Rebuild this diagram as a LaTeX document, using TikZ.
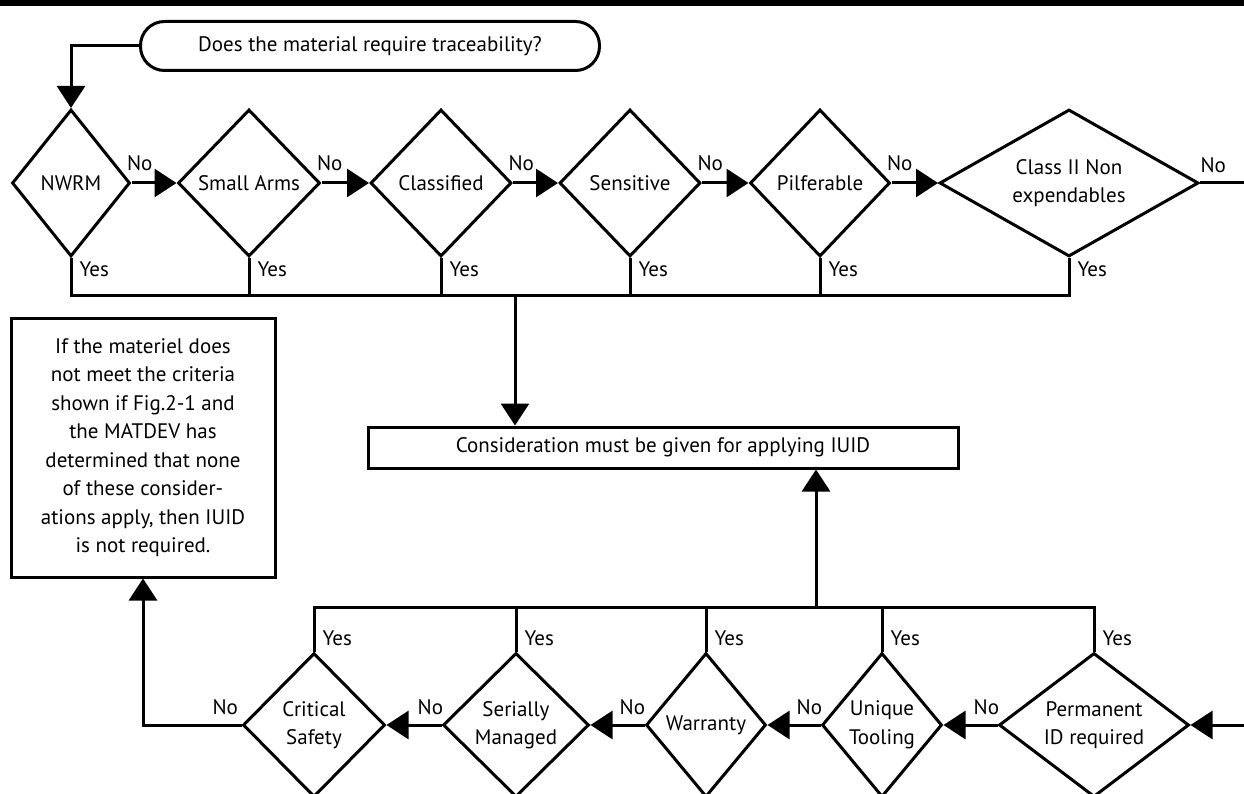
\documentclass[tikz,border=0pt]{standalone}
\usepackage{fontspec}
\setmainfont{PT Sans}
\usetikzlibrary{shapes.geometric,arrows.meta,positioning}

\tikzset{
  dec/.style={diamond, draw, line width=3pt, inner sep=0pt, align=center},
  box/.style={rectangle, draw, line width=3pt, align=center},
  lbl/.style={inner sep=1pt},
  flow/.style={line width=3pt, -{Triangle[length=22pt,width=28pt]}},
  wire/.style={line width=3pt}
}

\begin{document}
\begin{tikzpicture}[x=1pt,y=-1pt,font=\fontsize{21}{28.5}\selectfont]
\useasboundingbox (0,0) rectangle (1244,794);
    \draw[line width=6pt] (0,3) -- (1244,3);

    \node[box, rounded corners=24pt, minimum width=459pt, minimum height=49pt] (start) at (370,46) {Does the material require traceability?};

%    top row
    \node[dec, minimum width=118pt, minimum height=147pt] (nwrm) at (71,183) {NWRM};
    \node[dec, minimum width=142pt, minimum height=147pt] (smarms) at (249,183) {Small Arms};
    \node[dec, minimum width=141pt, minimum height=147pt] (classif) at (441,183) {Classified};
    \node[dec, minimum width=141pt, minimum height=147pt] (sens) at (630,183) {Sensitive};
    \node[dec, minimum width=140pt, minimum height=147pt] (pilf) at (820,183) {Pilferable};
    \node[dec, shape aspect=1.76, minimum width=259pt, minimum height=147pt] (classii) at (1069,183) {Class II Non\\expendables};
    \coordinate (outr) at (1244,183);
    \coordinate (busA) at (515,295);

    \node[box, minimum width=590pt, minimum height=41pt] (consid) at (663,447.5) {Consideration must be given for applying IUID};
    \node[box, minimum width=264pt, minimum height=259pt] (note) at (143,447.5) {If the materiel does\\not meet the criteria\\shown if Fig.2-1 and\\the MATDEV has\\determined that none\\of these consider-\\ations apply, then IUID\\is not required.};

%    bottom row
    \node[dec, minimum width=142pt, minimum height=144pt] (crit) at (314,725) {Critical\\Safety};
    \node[dec, minimum width=146pt, minimum height=144pt] (seri) at (516,725) {Serially\\Managed};
    \node[dec, minimum width=120pt, minimum height=144pt] (warr) at (706,725) {Warranty};
    \node[dec, minimum width=120pt, minimum height=144pt] (uniq) at (882,725) {Unique\\Tooling};
    \node[dec, shape aspect=1.3, minimum width=190pt, minimum height=144pt] (perm) at (1094,725) {Permanent\\ID required};
    \coordinate (inr) at (1244,725);
    \coordinate (busB) at (816,607);

    \draw[flow] (start.west) -| (nwrm.north);

    \draw[flow] (nwrm.east) -- (smarms.west) node[lbl, pos=0, anchor=south west, xshift=-7pt, yshift=10pt] {No};
    \draw[flow] (smarms.east) -- (classif.west) node[lbl, pos=0, anchor=south west, xshift=-7pt, yshift=10pt] {No};
    \draw[flow] (classif.east) -- (sens.west) node[lbl, pos=0, anchor=south west, xshift=-7pt, yshift=10pt] {No};
    \draw[flow] (sens.east) -- (pilf.west) node[lbl, pos=0, anchor=south west, xshift=-7pt, yshift=10pt] {No};
    \draw[flow] (pilf.east) -- (classii.west) node[lbl, pos=0, anchor=south west, xshift=-7pt, yshift=10pt] {No};
    \draw[wire] (classii.east) -- (outr) node[lbl, pos=0, anchor=south west, xshift=-2pt, yshift=8pt] {No};

    \draw[wire] (nwrm.south) -- (nwrm.south |- busA) node[lbl, pos=.3, right=6pt] {Yes} -- (classii.south |- busA) -- (classii.south) node[lbl, pos=.7, right=6pt] {Yes};
    \foreach \d in {smarms,classif,sens,pilf}
      \draw[wire] (\d.south) -- (\d.south |- busA) node[lbl, pos=.3, right=6pt] {Yes};
    \draw[flow] (busA) -- (busA |- consid.north);

    \draw[wire] (crit.north) -- (crit.north |- busB) node[lbl, pos=.3, right=6pt] {Yes} -- (perm.north |- busB) -- (perm.north) node[lbl, pos=.7, right=6pt] {Yes};
    \foreach \d in {seri,warr,uniq}
      \draw[wire] (\d.north) -- (\d.north |- busB) node[lbl, pos=.3, right=6pt] {Yes};
    \draw[flow] (busB) -- (busB |- consid.south);

    \draw[flow] (inr) -- (perm.east);
    \draw[flow] (perm.west) -- (uniq.east) node[lbl, pos=0, anchor=south east, xshift=4pt, yshift=8pt] {No};
    \draw[flow] (uniq.west) -- (warr.east) node[lbl, pos=0, anchor=south east, xshift=4pt, yshift=8pt] {No};
    \draw[flow] (warr.west) -- (seri.east) node[lbl, pos=0, anchor=south east, xshift=3pt, yshift=8pt] {No};
    \draw[flow] (seri.west) -- (crit.east) node[lbl, pos=0, anchor=south east, xshift=4pt, yshift=8pt] {No};
    \draw[flow] (crit.west) -| (note.south) node[lbl, pos=0, anchor=south east, xshift=-1pt, yshift=8pt] {No};

\end{tikzpicture}
\end{document}
